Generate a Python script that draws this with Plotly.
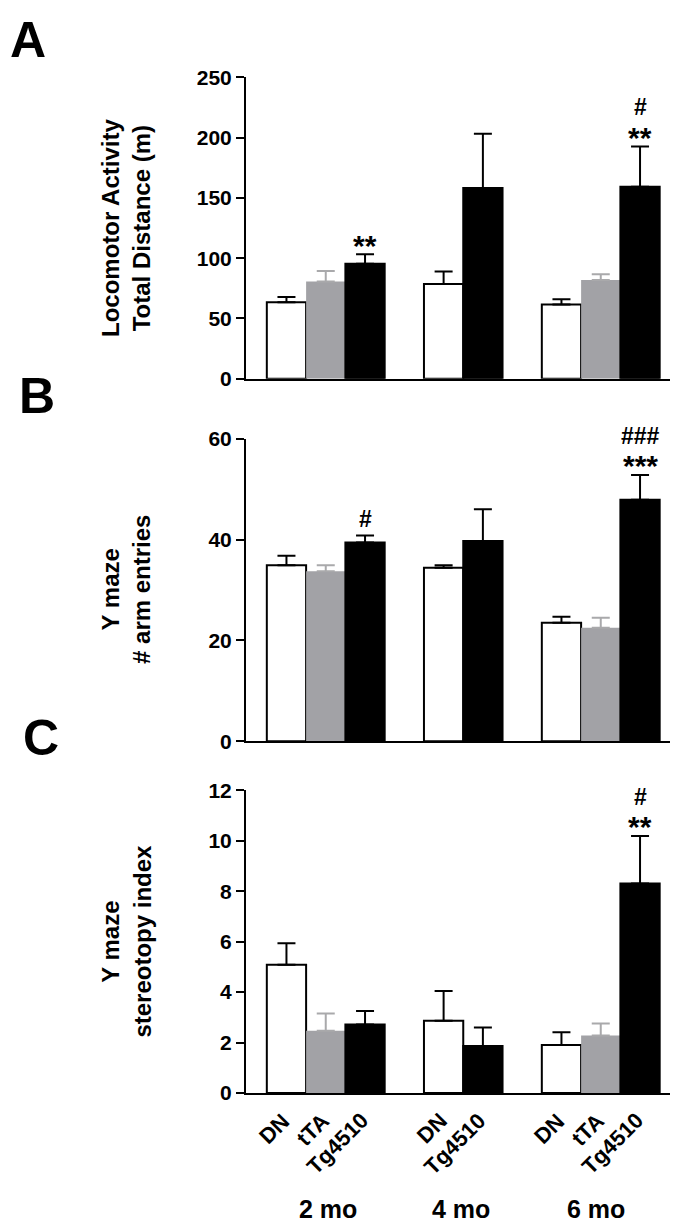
import plotly.graph_objects as go

# ---------------- data ----------------
genotypes = ["DN", "tTA", "Tg4510"]
ages = ["2 mo", "4 mo", "6 mo"]

# slot index of each bar along the x axis
x_dn = [1, 5, 8]
x_tta = [2, 9]
x_tg = [3, 6, 10]
tick_pos = [1, 2, 3, 5, 6, 8, 9, 10]
tick_text = ["DN", "tTA", "Tg4510", "DN", "Tg4510", "DN", "tTA", "Tg4510"]
age_pos = [2.06, 5.44, 8.88]

# Panel A: locomotor activity, total distance (m)
loco_dn = [63.4, 78.6, 61.5]
loco_dn_sem = [4.3, 10.3, 4.4]
loco_tta = [80.7, 81.9]
loco_tta_sem = [8.7, 4.8]
loco_tg = [95.4, 158.3, 159.3]
loco_tg_sem = [7.9, 45.0, 33.4]

# Panel B: Y maze # arm entries
arm_dn = [34.9, 34.4, 23.5]
arm_dn_sem = [1.9, 0.5, 1.2]
arm_tta = [33.7, 22.5]
arm_tta_sem = [1.2, 2.0]
arm_tg = [39.4, 39.7, 47.9]
arm_tg_sem = [1.4, 6.3, 4.9]

# Panel C: Y maze stereotopy index
st_dn = [5.08, 2.86, 1.90]
st_dn_sem = [0.86, 1.18, 0.51]
st_tta = [2.47, 2.28]
st_tta_sem = [0.68, 0.47]
st_tg = [2.71, 1.86, 8.30]
st_tg_sem = [0.54, 0.74, 1.89]

# significance marks: (Tg bar index, hash text, star text)
sig_A = [(0, "", "**"), (2, "#", "**")]
sig_B = [(0, "", "#"), (2, "###", "***")]
sig_C = [(2, "#", "**")]

# ---------------- styling ----------------
FONT = "Liberation Sans, Arial, Helvetica, sans-serif"
WHITE = "#ffffff"
GRAY = "#a2a2a6"
GRAY_ERR = "#a9a9ab"
BLACK = "#000000"

W, H = 678, 1225
xdom = [238 / W, 1.0]
xrange_ = [-0.03, 11.17]
ydoms = [
    [1 - 365.5 / H, 1 - 58.5 / H],
    [1 - 735.0 / H, 1 - 426.7 / H],
    [1 - 1093.5 / H, 1 - 785.0 / H],
]
yranges = [[0, 250], [0, 60], [0, 12]]
ydticks = [50, 20, 2]

fig = go.Figure()

panels = [
    (loco_dn, loco_dn_sem, loco_tta, loco_tta_sem, loco_tg, loco_tg_sem),
    (arm_dn, arm_dn_sem, arm_tta, arm_tta_sem, arm_tg, arm_tg_sem),
    (st_dn, st_dn_sem, st_tta, st_tta_sem, st_tg, st_tg_sem),
]

for i, (dn, dns, tta, ttas, tg, tgs) in enumerate(panels):
    xa = "x" if i == 0 else f"x{i+1}"
    ya = "y" if i == 0 else f"y{i+1}"
    fig.add_trace(go.Bar(
        x=x_dn, y=dn, width=1, xaxis=xa, yaxis=ya, name=genotypes[0],
        marker=dict(color=WHITE, line=dict(color=BLACK, width=2)),
        error_y=dict(type="data", symmetric=False, array=dns,
                     arrayminus=[0] * len(dns), color=BLACK, thickness=2, width=9),
        showlegend=False))
    fig.add_trace(go.Bar(
        x=x_tta, y=tta, width=1, xaxis=xa, yaxis=ya, name=genotypes[1],
        marker=dict(color=GRAY, line=dict(color=GRAY, width=0)),
        error_y=dict(type="data", symmetric=False, array=ttas,
                     arrayminus=[0] * len(ttas), color=GRAY_ERR, thickness=2, width=9),
        showlegend=False))
    fig.add_trace(go.Bar(
        x=x_tg, y=tg, width=1, xaxis=xa, yaxis=ya, name=genotypes[2],
        marker=dict(color=BLACK, line=dict(color=BLACK, width=2)),
        error_y=dict(type="data", symmetric=False, array=tgs,
                     arrayminus=[0] * len(tgs), color=BLACK, thickness=2, width=9),
        showlegend=False))

axis_common = dict(showgrid=False, zeroline=False, showline=True,
                   linecolor=BLACK, linewidth=2)
tickfont = dict(family=FONT, size=21, color=BLACK, weight="bold")

layout = dict(
    width=W, height=H, margin=dict(l=0, r=0, t=0, b=0),
    paper_bgcolor="white", plot_bgcolor="white",
    barmode="overlay", showlegend=False,
)
for i in range(3):
    sx = "" if i == 0 else str(i + 1)
    layout[f"xaxis{sx}"] = dict(
        axis_common, domain=xdom, range=xrange_, anchor=f"y{sx}",
        tickvals=tick_pos, ticks="", showticklabels=False)
    layout[f"yaxis{sx}"] = dict(
        axis_common, domain=ydoms[i], range=yranges[i], anchor=f"x{sx}",
        dtick=ydticks[i], tick0=0, ticks="outside", ticklen=8, tickwidth=2,
        tickcolor=BLACK, tickfont=tickfont)
fig.update_layout(**layout)

annots = []
# panel letters
for letter, ytop, xl in [("A", 1 + 10 / H, 0.0), ("B", 1 - 353 / H, 9 / W),
                         ("C", 1 - 701 / H, 13 / W)]:
    annots.append(dict(text=letter, xref="paper", yref="paper", x=xl, y=ytop,
                       xanchor="left", yanchor="top", showarrow=False,
                       font=dict(family=FONT, size=50, color=BLACK, weight="bold")))

# y titles
titles = ["Locomotor Activity<br>Total Distance (m)", "Y maze<br># arm entries",
          "Y maze<br>stereotopy index"]
for i, t in enumerate(titles):
    yc = (ydoms[i][0] + ydoms[i][1]) / 2
    annots.append(dict(text=t, xref="paper", yref="paper", x=118 / W, y=yc,
                       xanchor="center", yanchor="middle", textangle=-90,
                       showarrow=False,
                       font=dict(family=FONT, size=24, color=BLACK, weight="bold")))

# rotated category labels under panel C (placed at the x3 tick values)
for p, t in zip(tick_pos, tick_text):
    annots.append(dict(text=t, xref="x3", yref="paper", x=p, y=1 - 1106 / H,
                       xanchor="right", yanchor="top", xshift=11, textangle=-45,
                       showarrow=False,
                       font=dict(family=FONT, size=22, color=BLACK, weight="bold")))

# significance marks
for i, (sig, tg, tgs) in enumerate([(sig_A, loco_tg, loco_tg_sem),
                                   (sig_B, arm_tg, arm_tg_sem),
                                   (sig_C, st_tg, st_tg_sem)]):
    sx = "" if i == 0 else str(i + 1)
    for idx, hsh, star in sig:
        top = tg[idx] + tgs[idx]
        xv = x_tg[idx]
        if star == "#":
            annots.append(dict(text="#", xref=f"x{sx}", yref=f"y{sx}", x=xv, y=top,
                               yanchor="middle", yshift=16, showarrow=False,
                               font=dict(family=FONT, size=23, color=BLACK, weight="bold")))
            continue
        annots.append(dict(text=star, xref=f"x{sx}", yref=f"y{sx}", x=xv, y=top,
                           yanchor="middle", yshift=9, showarrow=False,
                           font=dict(family=FONT, size=30, color=BLACK, weight="bold")))
        if hsh:
            annots.append(dict(text=hsh, xref=f"x{sx}", yref=f"y{sx}", x=xv, y=top,
                               yanchor="middle", yshift=39, showarrow=False,
                               font=dict(family=FONT, size=23, color=BLACK, weight="bold")))

# age group labels
for a, p in zip(ages, age_pos):
    annots.append(dict(text=a, xref="x3", yref="paper", x=p, y=1 - 1212 / H,
                       xanchor="center", yanchor="middle", showarrow=False,
                       font=dict(family=FONT, size=25, color=BLACK, weight="bold")))

fig.update_layout(annotations=annots)
fig.write_html("out.html")
